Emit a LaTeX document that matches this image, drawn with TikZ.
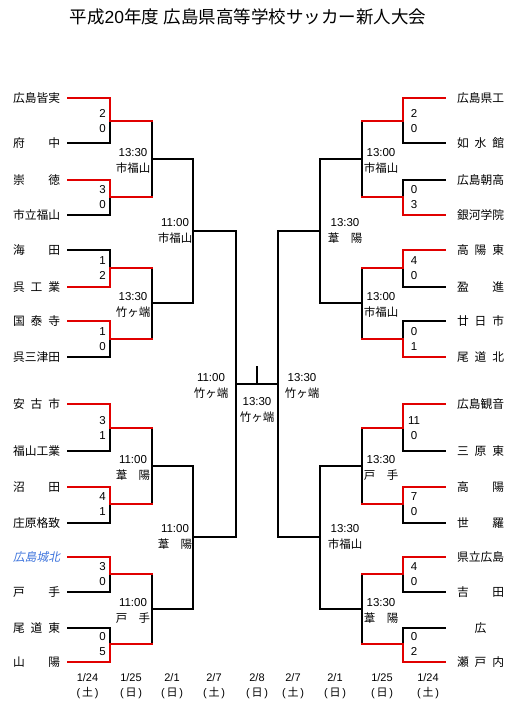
\documentclass[tikz,border=0pt]{standalone}
\usepackage{fontspec}
\setmainfont{Liberation Sans}
\newfontfamily\jp{Noto Sans CJK JP}
\newfontfamily\jpit[FakeSlant=0.2]{Noto Sans CJK JP}
\usetikzlibrary{calc}
\definecolor{winred}{RGB}{225,0,0}
\definecolor{cityblue}{RGB}{60,115,220}
\newcommand{\tm}[1]{\makebox[47pt][s]{#1}}
\newcommand{\venue}[1]{\makebox[34.5pt][s]{\jp #1}}

\begin{document}
\begin{tikzpicture}[x=1pt,y=-1pt,line width=2pt,line cap=rect,
  lteam/.style={anchor=east,inner xsep=4pt,outer xsep=4pt,inner ysep=1pt,font=\jp\fontsize{11.75}{14}\selectfont},
  rteam/.style={anchor=west,inner xsep=4pt,outer xsep=8pt,inner ysep=1pt,font=\jp\fontsize{11.75}{14}\selectfont},
  score/.style={align=center,inner sep=0pt,font=\fontsize{11.5}{15}\selectfont},
  gamelbl/.style={align=center,inner sep=0pt,font=\fontsize{11.5}{16}\selectfont},
  daylbl/.style={align=center,inner sep=0pt,font=\fontsize{11}{15}\selectfont},
  winline/.style={draw=winred}]
\useasboundingbox (0,0) rectangle (524,704);
\node[font=\fontsize{17.5}{20}\selectfont] (title) at (248,17) {{\jp 平成}20{\jp 年度} {\jp 広島県高等学校サッカー新人大会}};

\foreach \i/\y/\t in {1/98/{広島皆実},2/143/{府\hfill 中},3/180/{崇\hfill 徳},4/215/{市立福山},
  5/250/{海\hfill 田},6/287/{呉\hfill 工\hfill 業},7/321/{国\hfill 泰\hfill 寺},8/357/{呉三津田},
  9/404/{安\hfill 古\hfill 市},10/451/{福山工業},11/487/{沼\hfill 田},12/523/{庄原格致},
  13/557/{\color{cityblue}\jpit 広島城北},14/592/{戸\hfill 手},15/628/{尾\hfill 道\hfill 東},16/662/{山\hfill 陽}}
  \node[lteam] (L\i) at (68,\y) {\tm{\t}};
\foreach \i/\y/\t in {1/98/{広島県工},2/143/{如\hfill 水\hfill 館},3/180/{広島朝高},4/215/{銀河学院},
  5/250/{高\hfill 陽\hfill 東},6/287/{盈\hfill 進},7/321/{廿\hfill 日\hfill 市},8/357/{尾\hfill 道\hfill 北},
  9/404/{広島観音},10/451/{三\hfill 原\hfill 東},11/487/{高\hfill 陽},12/523/{世\hfill 羅},
  13/557/{県立広島},14/592/{吉\hfill 田},15/628/{\hfill 広\hfill},16/662/{瀬\hfill 戸\hfill 内}}
  \node[rteam] (R\i) at (445,\y) {\tm{\t}};

\foreach \i/\y in {1/121,2/197,3/268,4/339,5/428,6/504,7/574,8/644}
  {\coordinate (m\i) at (110,\y); \coordinate (n\i) at (403,\y);}
\foreach \i/\y in {1/159,2/303,3/466,4/609}
  {\coordinate (q\i) at (152,\y); \coordinate (p\i) at (362,\y);}
\foreach \i/\y in {1/231,2/537}
  {\coordinate (s\i) at (193,\y); \coordinate (t\i) at (320,\y);}
\coordinate (fl) at (236,384);
\coordinate (fr) at (278,384);
\coordinate (top) at (257,367);

\foreach \k in {1,...,8}{
  \pgfmathtruncatemacro{\a}{2*\k-1}
  \pgfmathtruncatemacro{\b}{2*\k}
  \pgfmathtruncatemacro{\h}{(\k+1)/2}
  \draw (L\a.east) -| (m\k) (L\b.east) -| (m\k) (m\k) -| (q\h);
  \draw (R\a.west) -| (n\k) (R\b.west) -| (n\k) (n\k) -| (p\h);
}
\foreach \k in {1,...,4}{
  \pgfmathtruncatemacro{\h}{(\k+1)/2}
  \draw (q\k) -| (s\h) (p\k) -| (t\h);
}
\draw (s1) -| (fl) (s2) -| (fl) (t1) -| (fr) (t2) -| (fr) (fl) -- (fr) (top) -- (top |- fl);

\foreach \t/\m/\q in {L1/m1/q1,L3/m2/q1,L6/m3/q2,L7/m4/q2,L9/m5/q3,L11/m6/q3,L13/m7/q4,L16/m8/q4}
  \draw[winline] (\t.east) -| (\m) -- (\m -| \q);
\foreach \t/\m/\q in {R1/n1/p1,R4/n2/p1,R5/n3/p2,R8/n4/p2,R9/n5/p3,R11/n6/p3,R13/n7/p4,R16/n8/p4}
  \draw[winline] (\t.west) -| (\m) -- (\m -| \q);

\foreach \k/\a/\b in {1/2/0,2/3/0,3/1/2,4/1/0,5/3/1,6/4/1,7/3/0,8/0/5}
  \node[score] (ls\k) at ([xshift=-7.5pt]m\k) {\a\\\b};
\foreach \k/\a/\b in {1/2/0,2/0/3,3/4/0,4/0/1,5/11/0,6/7/0,7/4/0,8/0/2}
  \node[score] (rs\k) at ([xshift=11pt]n\k) {\a\\\b};

\foreach \k/\t/\v in {1/13:30/市福山,2/13:30/竹ヶ端,3/11:00/葦\hfill 陽,4/11:00/戸\hfill 手}
  \node[gamelbl] (lq\k) at ([xshift=-19pt,yshift=-1.5pt]q\k) {\t\\\venue{\v}};
\foreach \k/\t/\v in {1/13:00/市福山,2/13:00/市福山,3/13:30/戸\hfill 手,4/13:30/葦\hfill 陽}
  \node[gamelbl] (rp\k) at ([xshift=19pt,yshift=-1.5pt]p\k) {\t\\\venue{\v}};
\node[gamelbl] (ls1lbl) at ([xshift=-18pt]s1) {11:00\\\venue{市福山}};
\node[gamelbl] (ls2lbl) at ([xshift=-18pt]s2) {11:00\\\venue{葦\hfill 陽}};
\node[gamelbl] (rt1lbl) at ([xshift=25pt]t1) {13:30\\\venue{葦\hfill 陽}};
\node[gamelbl] (rt2lbl) at ([xshift=25pt]t2) {13:30\\\venue{市福山}};
\node[gamelbl] (lflbl) at ([xshift=-25pt,yshift=-2pt]fl) {11:00\\\venue{竹ヶ端}};
\node[gamelbl] (rflbl) at ([xshift=24pt,yshift=-2pt]fr) {13:30\\\venue{竹ヶ端}};
\node[gamelbl] (finlbl) at ([yshift=-25.5pt]$(fl)!.5!(fr)$) {13:30\\\venue{竹ヶ端}};

\foreach \x/\d/\w [count=\i] in {87.5/{1/24}/土,131/{1/25}/日,172/{2/1}/日,214/{2/7}/土,257/{2/8}/日,
  293/{2/7}/土,335/{2/1}/日,382/{1/25}/日,428/{1/24}/土}
  \node[daylbl] (day\i) at (\x,686) {\d\\(\,{\jp \w}\,)};
\end{tikzpicture}
\end{document}
